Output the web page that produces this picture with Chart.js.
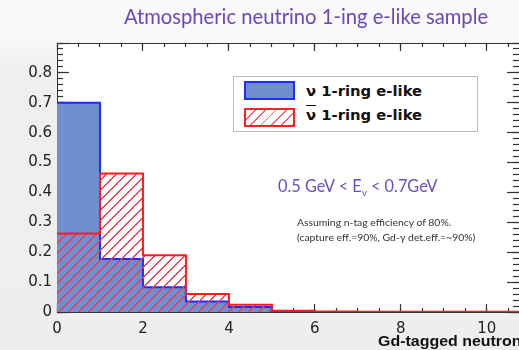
<!DOCTYPE html>
<html>
<head>
<meta charset="utf-8">
<script src="https://cdn.jsdelivr.net/npm/chart.js@4"></script>
<style>
  html, body { margin: 0; padding: 0; }
  body {
    width: 519px; height: 350px; overflow: hidden; position: relative;
    background: linear-gradient(#fafafa 0, #f8f8f8 40px, #efefef 70px, #eeeeee 100%);
    font-family: "DejaVu Sans", sans-serif;
  }
  #wrap { position: absolute; left: 0; top: 0; width: 519px; height: 350px; }
  .title {
    position: absolute; left: 0; top: 4px; width: 612px; text-align: center;
    font-family: Lato, "Open Sans", sans-serif; font-size: 20.2px; color: #6a47bd;
  }
  .legend {
    position: absolute; left: 233px; top: 76px; width: 243px; height: 54px;
    border: 1px solid #bdbdbd; background: #fff;
  }
  .row { position: absolute; left: 10px; height: 18px; }
  .sw { position: absolute; left: 0; top: 0; width: 47px; height: 15px; }
  .sw.nu { background: #6f8fd0; border: 2px solid #1f2bff; }
  .sw.nubar {
    border: 2px solid #ff2020;
    background: repeating-linear-gradient(135deg, #fff 0 6px, #f06070 6px 7.3px);
  }
  .row > span {
    position: absolute; left: 62px; white-space: nowrap;
    font-weight: bold; font-size: 14.8px; color: #111;
  }
  .bar { text-decoration: overline; }
  .energy {
    position: absolute; left: 278px; top: 176px; white-space: nowrap;
    font-family: Lato, "Open Sans", sans-serif; font-size: 16.3px; color: #6a4fc0;
  }
  .energy sub { font-size: 10px; }
  .note {
    position: absolute; left: 297px; top: 215px; white-space: nowrap;
    font-family: Lato, "Open Sans", sans-serif; font-size: 10.4px; line-height: 15px; color: #333;
  }
  .xlabel {
    position: absolute; left: 378px; top: 333px; white-space: nowrap;
    font-family: "Liberation Sans", Arial, sans-serif;
    font-weight: bold; font-size: 14.5px; color: #111;
    transform: scaleX(1.1); transform-origin: 0 0;
  }
</style>
</head>
<body>
<div id="wrap"><canvas id="hist" width="519" height="350"></canvas></div>
<div class="title">Atmospheric neutrino 1-ing e-like sample</div>
<div class="legend">
  <div class="row" style="top:4px"><div class="sw nu"></div><span style="top:1px">ν 1-ring e-like</span></div>
  <div class="row" style="top:31px"><div class="sw nubar"></div><span style="top:-2px"><span class="bar">ν</span> 1-ring e-like</span></div>
</div>
<div class="energy">0.5 GeV &lt; E<sub>ν</sub> &lt; 0.7GeV</div>
<div class="note">Assuming n-tag efficiency of 80%.<br>(capture eff.=90%, Gd-γ det.eff.=~90%)</div>
<div class="xlabel">Gd-tagged neutrons</div>

<script>
// Bin edges (number of Gd-tagged neutrons) and normalised fractions per bin
const binEdges = [0, 1, 2, 3, 4, 5, 6, 7, 8, 9, 10, 11];
const nuValues = [0.70, 0.177, 0.083, 0.035, 0.017, 0.003];
const nubarValues = [0.263, 0.463, 0.19, 0.06, 0.024, 0.004, 0.002, 0.001, 0.001, 0.001, 0.001];

const X_MIN = 0, X_MAX = 10.75;
const Y_MIN = 0, Y_MAX = 0.9;
const X_MAJOR = 2, X_MINOR = 0.5;
const Y_MAJOR = 0.1, Y_MINOR = 0.02;

const AXIS_COLOR = '#333';
const TICK_WIDTH = 1.2;

// step-histogram points: each value holds from its left edge to the next edge
function histPoints(values) {
    const pts = values.map((v, i) => ({ x: binEdges[i], y: v }));
    pts.push({ x: binEdges[values.length], y: 0 });
    return pts;
}

// "/" hatching for the anti-neutrino histogram
function hatchPattern() {
    const s = 10;
    const c = document.createElement('canvas');
    c.width = s; c.height = s;
    const g = c.getContext('2d');
    g.fillStyle = 'rgba(235, 60, 80, 0.95)';
    for (let i = 0; i < s; i++) {
        g.fillRect(i, s - 1 - i, 1, 1);
        g.fillRect((i + 1) % s, s - 1 - i, 1, 1);
    }
    return g.createPattern(c, 'repeat');
}

// white plot area behind the histograms
const plotBackground = {
    id: 'plotBackground',
    beforeDraw(chart) {
        const { ctx, chartArea: a } = chart;
        ctx.save();
        ctx.fillStyle = '#ffffff';
        ctx.fillRect(a.left, a.top, a.right - a.left, a.bottom - a.top);
        ctx.restore();
    }
};

// an axis that only draws inward tick marks (negative tick length), no labels;
// z: 1 puts the marks on top of the histograms
function tickAxis(axis, position, min, max, step, len, border) {
    return {
        type: 'linear', axis, position, min, max, weight: 0, z: 1,
        grid: { display: true, drawOnChartArea: false, tickLength: -len, tickColor: AXIS_COLOR, tickWidth: TICK_WIDTH },
        border: { display: border, color: AXIS_COLOR, width: 1 },
        ticks: { display: false, stepSize: step, includeBounds: false, autoSkip: false, maxTicksLimit: 1000 },
        afterFit(scale) {
            if (axis === 'x') scale.height = 0; else scale.width = 0;
        }
    };
}

const tickFont = { family: '"DejaVu Sans", sans-serif', size: 15 };

new Chart(document.getElementById('hist'), {
    type: 'line',
    data: {
        datasets: [{
            label: 'ν 1-ring e-like',
            data: histPoints(nuValues),
            stepped: true,
            borderColor: '#1f2bff',
            borderWidth: 2,
            backgroundColor: '#6f8fd0',
            fill: 'origin',
            pointRadius: 0,
            order: 2
        }, {
            label: 'ν̄ 1-ring e-like',
            data: histPoints(nubarValues),
            stepped: true,
            borderColor: '#ff1a1a',
            borderWidth: 2,
            backgroundColor: hatchPattern(),
            fill: 'origin',
            pointRadius: 0,
            order: 1
        }]
    },
    options: {
        responsive: false,
        animation: false,
        layout: { padding: { top: 43, right: 0, left: 0, bottom: 0 } },
        plugins: {
            legend: { display: false },
            tooltip: { enabled: false }
        },
        scales: {
            x: {
                type: 'linear', position: 'bottom', weight: 10, z: 1,
                min: X_MIN, max: X_MAX,
                grid: { display: true, drawOnChartArea: false, tickLength: -8, tickColor: AXIS_COLOR, tickWidth: TICK_WIDTH },
                border: { display: true, color: AXIS_COLOR, width: 1 },
                ticks: {
                    stepSize: X_MAJOR, includeBounds: false, maxRotation: 0, autoSkip: false,
                    padding: 16, color: '#222', font: tickFont
                },
                afterFit(scale) { scale.height = 38; }
            },
            xMinor: tickAxis('x', 'bottom', X_MIN, X_MAX, X_MINOR, 4, false),
            xTop: tickAxis('x', 'top', X_MIN, X_MAX, X_MAJOR, 8, true),
            xTopMinor: tickAxis('x', 'top', X_MIN, X_MAX, X_MINOR, 4, false),
            y: {
                type: 'linear', position: 'left', weight: 10, z: 1,
                min: Y_MIN, max: Y_MAX,
                grid: { display: true, drawOnChartArea: false, tickLength: -12, tickColor: AXIS_COLOR, tickWidth: TICK_WIDTH },
                border: { display: true, color: AXIS_COLOR, width: 1 },
                ticks: {
                    stepSize: Y_MAJOR, includeBounds: false, padding: 17,
                    color: '#222', font: tickFont,
                    callback: v => (v >= Y_MAX - 1e-9 ? '' : Number(v.toFixed(1)).toString())
                },
                afterFit(scale) { scale.width = 57; }
            },
            yMinor: tickAxis('y', 'left', Y_MIN, Y_MAX, Y_MINOR, 6, false),
            yRight: tickAxis('y', 'right', Y_MIN, Y_MAX, Y_MAJOR, 12, false),
            yRightMinor: tickAxis('y', 'right', Y_MIN, Y_MAX, Y_MINOR, 6, false)
        }
    },
    plugins: [plotBackground]
});
</script>
</body>
</html>
